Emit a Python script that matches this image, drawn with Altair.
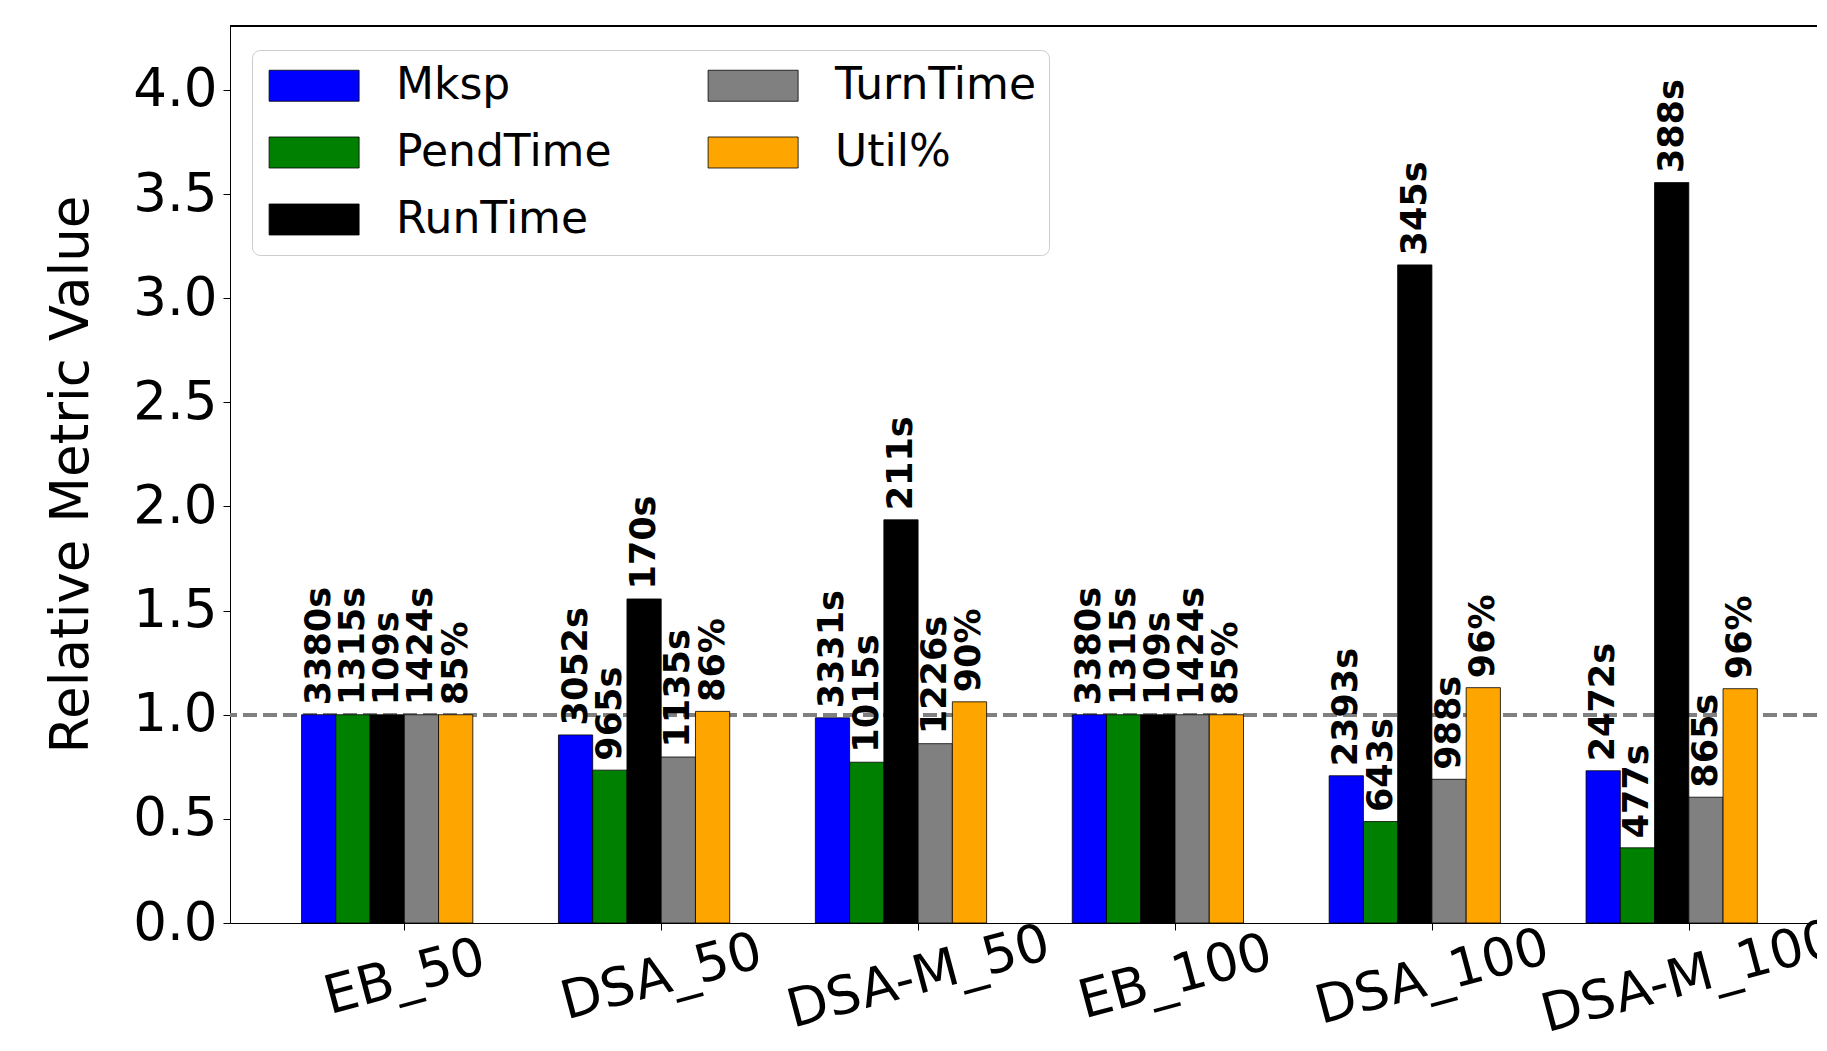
import altair as alt
import pandas as pd

groups = ["EB_50", "DSA_50", "DSA-M_50", "EB_100", "DSA_100", "DSA-M_100"]
metrics = ["Mksp", "PendTime", "RunTime", "TurnTime", "Util%"]
metric_colors = ["#0000ff", "#008000", "#000000", "#808080", "#ffa500"]

# relative values
mksp = [1.0, 0.903, 0.985, 1.0, 0.707, 0.731]
pend = [1.0, 0.734, 0.772, 1.0, 0.487, 0.361]
run = [1.0, 1.556, 1.936, 1.0, 3.160, 3.555]
turn = [1.0, 0.797, 0.861, 1.0, 0.690, 0.604]
util = [1.0, 1.016, 1.062, 1.0, 1.130, 1.125]

# annotation labels
mksp_lbl = ["3380s", "3052s", "3331s", "3380s", "2393s", "2472s"]
pend_lbl = ["1315s", "965s", "1015s", "1315s", "643s", "477s"]
run_lbl = ["109s", "170s", "211s", "109s", "345s", "388s"]
turn_lbl = ["1424s", "1135s", "1226s", "1424s", "988s", "865s"]
util_lbl = ["85%", "86%", "90%", "85%", "96%", "96%"]

values = [mksp, pend, run, turn, util]
labels = [mksp_lbl, pend_lbl, run_lbl, turn_lbl, util_lbl]

rows = []
for s, m in enumerate(metrics):
    for g, grp in enumerate(groups):
        rows.append({"g": g, "s": s, "group": grp, "metric": m,
                     "value": values[s][g], "label": labels[s][g]})
df = pd.DataFrame(rows)

FONT = "DejaVu Sans"
YMAX = 4.307
xscale = alt.Scale(domain=[-0.6785, 5.499], nice=False, zero=False)
yscale = alt.Scale(domain=[0, YMAX], nice=False, zero=True)

label_arr = "[" + ",".join("'%s'" % g for g in groups) + "]"
xaxis = alt.Axis(
    values=list(range(len(groups))), labelExpr=label_arr + "[datum.value]",
    labelAngle=-15, labelAlign="center", labelBaseline="middle",
    labelPadding=47, tickSize=7, tickColor="black", domainColor="black",
    labelFontSize=53, labelFont=FONT, labelColor="black", grid=False,
    labelFlush=False, labelOverlap=False, labelBound=False, labelLimit=0,
    title=None,
)
yaxis = alt.Axis(
    values=[0, 0.5, 1, 1.5, 2, 2.5, 3, 3.5, 4], format=".1f",
    labelFontSize=53, labelFont=FONT, labelColor="black", tickSize=7,
    labelPadding=6, tickColor="black", domainColor="black", grid=False,
    title="Relative Metric Value", titleFontSize=53, titleFont=FONT,
    titleFontWeight="normal", titleColor="black", titleX=-143, titleY=448,
    titleAngle=270, titleAlign="center", titleBaseline="alphabetic",
)

base = alt.Chart(df).transform_calculate(
    x0="datum.g + (datum.s - 3) * 0.8 / 6",
    x1="datum.g + (datum.s - 2) * 0.8 / 6",
    xc="datum.g + (datum.s - 2.5) * 0.8 / 6",
)

# legend patch: a 90x31 rectangle drawn with a custom path (unit = 22px)
patch_path = "M-0.836,-0.705H3.255V0.705H-0.836Z"

bars = base.mark_rect(stroke="black", strokeWidth=0.8).encode(
    x=alt.X("x0:Q", scale=xscale, axis=xaxis),
    x2="x1:Q",
    y=alt.Y("value:Q", scale=yscale, axis=yaxis),
    y2=alt.datum(0),
    color=alt.Color(
        "metric:N",
        scale=alt.Scale(domain=metrics, range=metric_colors),
        legend=alt.Legend(
            title=None, orient="none", legendX=22, legendY=24, columns=2,
            symbolType=patch_path, symbolSize=1936,
            symbolStrokeColor="black", symbolStrokeWidth=0.8,
            symbolOpacity=1, labelFont=FONT, labelFontSize=44,
            labelColor="black", labelOffset=86, columnPadding=92,
            rowPadding=22, padding=13, fillColor="white",
            strokeColor="#cccccc", cornerRadius=8, labelLimit=0,
        ),
    ),
)

ref = alt.Chart(df).mark_rule(color="#808080", strokeDash=[14, 6], strokeWidth=2.8).encode(
    y=alt.datum(1.0, type="quantitative", scale=yscale, axis=yaxis)
)

top = alt.Chart(df).mark_rule(color="black", strokeWidth=1).encode(
    y=alt.datum(YMAX, type="quantitative", scale=yscale, axis=yaxis)
)

texts = base.mark_text(
    angle=270, align="left", baseline="middle", dx=9.5,
    font=FONT, fontSize=35, fontWeight="bold", color="black",
).encode(
    x=alt.X("xc:Q", scale=xscale, axis=xaxis),
    y=alt.Y("value:Q", scale=yscale, axis=yaxis),
    text="label:N",
)

chart = alt.layer(ref, bars, texts, top).properties(
    width=1587, height=897,
    autosize=alt.AutoSizeParams(type="none"),
    padding={"left": 222, "top": 18, "right": 0, "bottom": 116},
    background="white",
).configure_view(stroke=None)

chart.save("out.html", embed_options={"renderer": "svg", "actions": False})
